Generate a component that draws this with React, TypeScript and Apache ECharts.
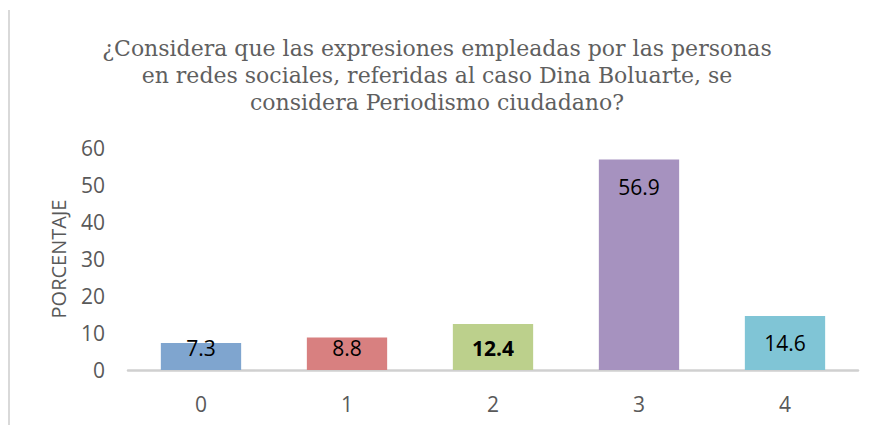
import React, { useEffect, useRef } from "react";
import * as echarts from "echarts";

const titleLines = [
  "¿Considera que las expresiones empleadas por las personas",
  "en redes sociales, referidas al caso Dina Boluarte, se",
  "considera Periodismo ciudadano?",
];
const categories = ["0", "1", "2", "3", "4"];
const values = [7.3, 8.8, 12.4, 56.9, 14.6];
const barColors = ["#7FA5CF", "#D88080", "#BCD08C", "#A692BF", "#80C5D6"];
const boldLabels = [false, false, true, false, false];
const yTicks = { min: 0, max: 60, interval: 10 };
const yAxisName = "PORCENTAJE";

const FONT = "Open Sans";

export default function App() {
  const ref = useRef<HTMLDivElement>(null);
  useEffect(() => {
    if (!ref.current) return;
    const chart = echarts.init(ref.current, null, { renderer: "svg" });
    const data = values.map((v, i) => {
      const tall = v >= 13.5;
      return {
        value: v,
        itemStyle: { color: barColors[i] },
        label: {
          position: tall ? "insideTop" : "insideBottom",
          distance: tall ? 17 : 12,
          fontWeight: boldLabels[i] ? "bold" : "normal",
        },
      };
    });
    chart.setOption({
      animation: false,
      backgroundColor: "#ffffff",
      title: {
        text: titleLines.join("\n"),
        left: "center",
        top: 30,
        textStyle: {
          fontFamily: "DejaVu Serif",
          fontSize: 22,
          lineHeight: 27,
          fontWeight: "normal",
          color: "#5f5f5f",
        },
      },
      graphic: [
        {
          type: "line",
          shape: { x1: 9, y1: 10, x2: 9, y2: 425 },
          style: { stroke: "#d9d9d9", lineWidth: 2 },
        },
      ],
      grid: { left: 128, right: 16, top: 148, bottom: 55 },
      xAxis: {
        type: "category",
        data: categories,
        axisLine: { lineStyle: { color: "#d0d0d0", width: 2.5 } },
        axisTick: { show: false },
        axisLabel: {
          color: "#595959",
          fontSize: 21,
          fontFamily: FONT,
          margin: 23,
        },
      },
      yAxis: {
        type: "value",
        min: yTicks.min,
        max: yTicks.max,
        interval: yTicks.interval,
        name: yAxisName,
        nameLocation: "middle",
        nameGap: 60,
        nameRotate: 90,
        nameTextStyle: {
          color: "#595959",
          fontSize: 20,
          fontFamily: FONT,
        },
        axisLine: { show: false },
        axisTick: { show: false },
        splitLine: { show: false },
        axisLabel: {
          color: "#595959",
          fontSize: 21,
          fontFamily: FONT,
          margin: 23,
        },
      },
      series: [
        {
          type: "bar",
          data,
          barWidth: "55%",
          label: {
            show: true,
            color: "#000000",
            fontSize: 21,
            fontFamily: FONT,
          },
        },
      ],
    });
    return () => chart.dispose();
  }, []);
  return (
    <div
      ref={ref}
      style={{ position: "absolute", left: 0, top: 0, width: 874, height: 425 }}
    />
  );
}
